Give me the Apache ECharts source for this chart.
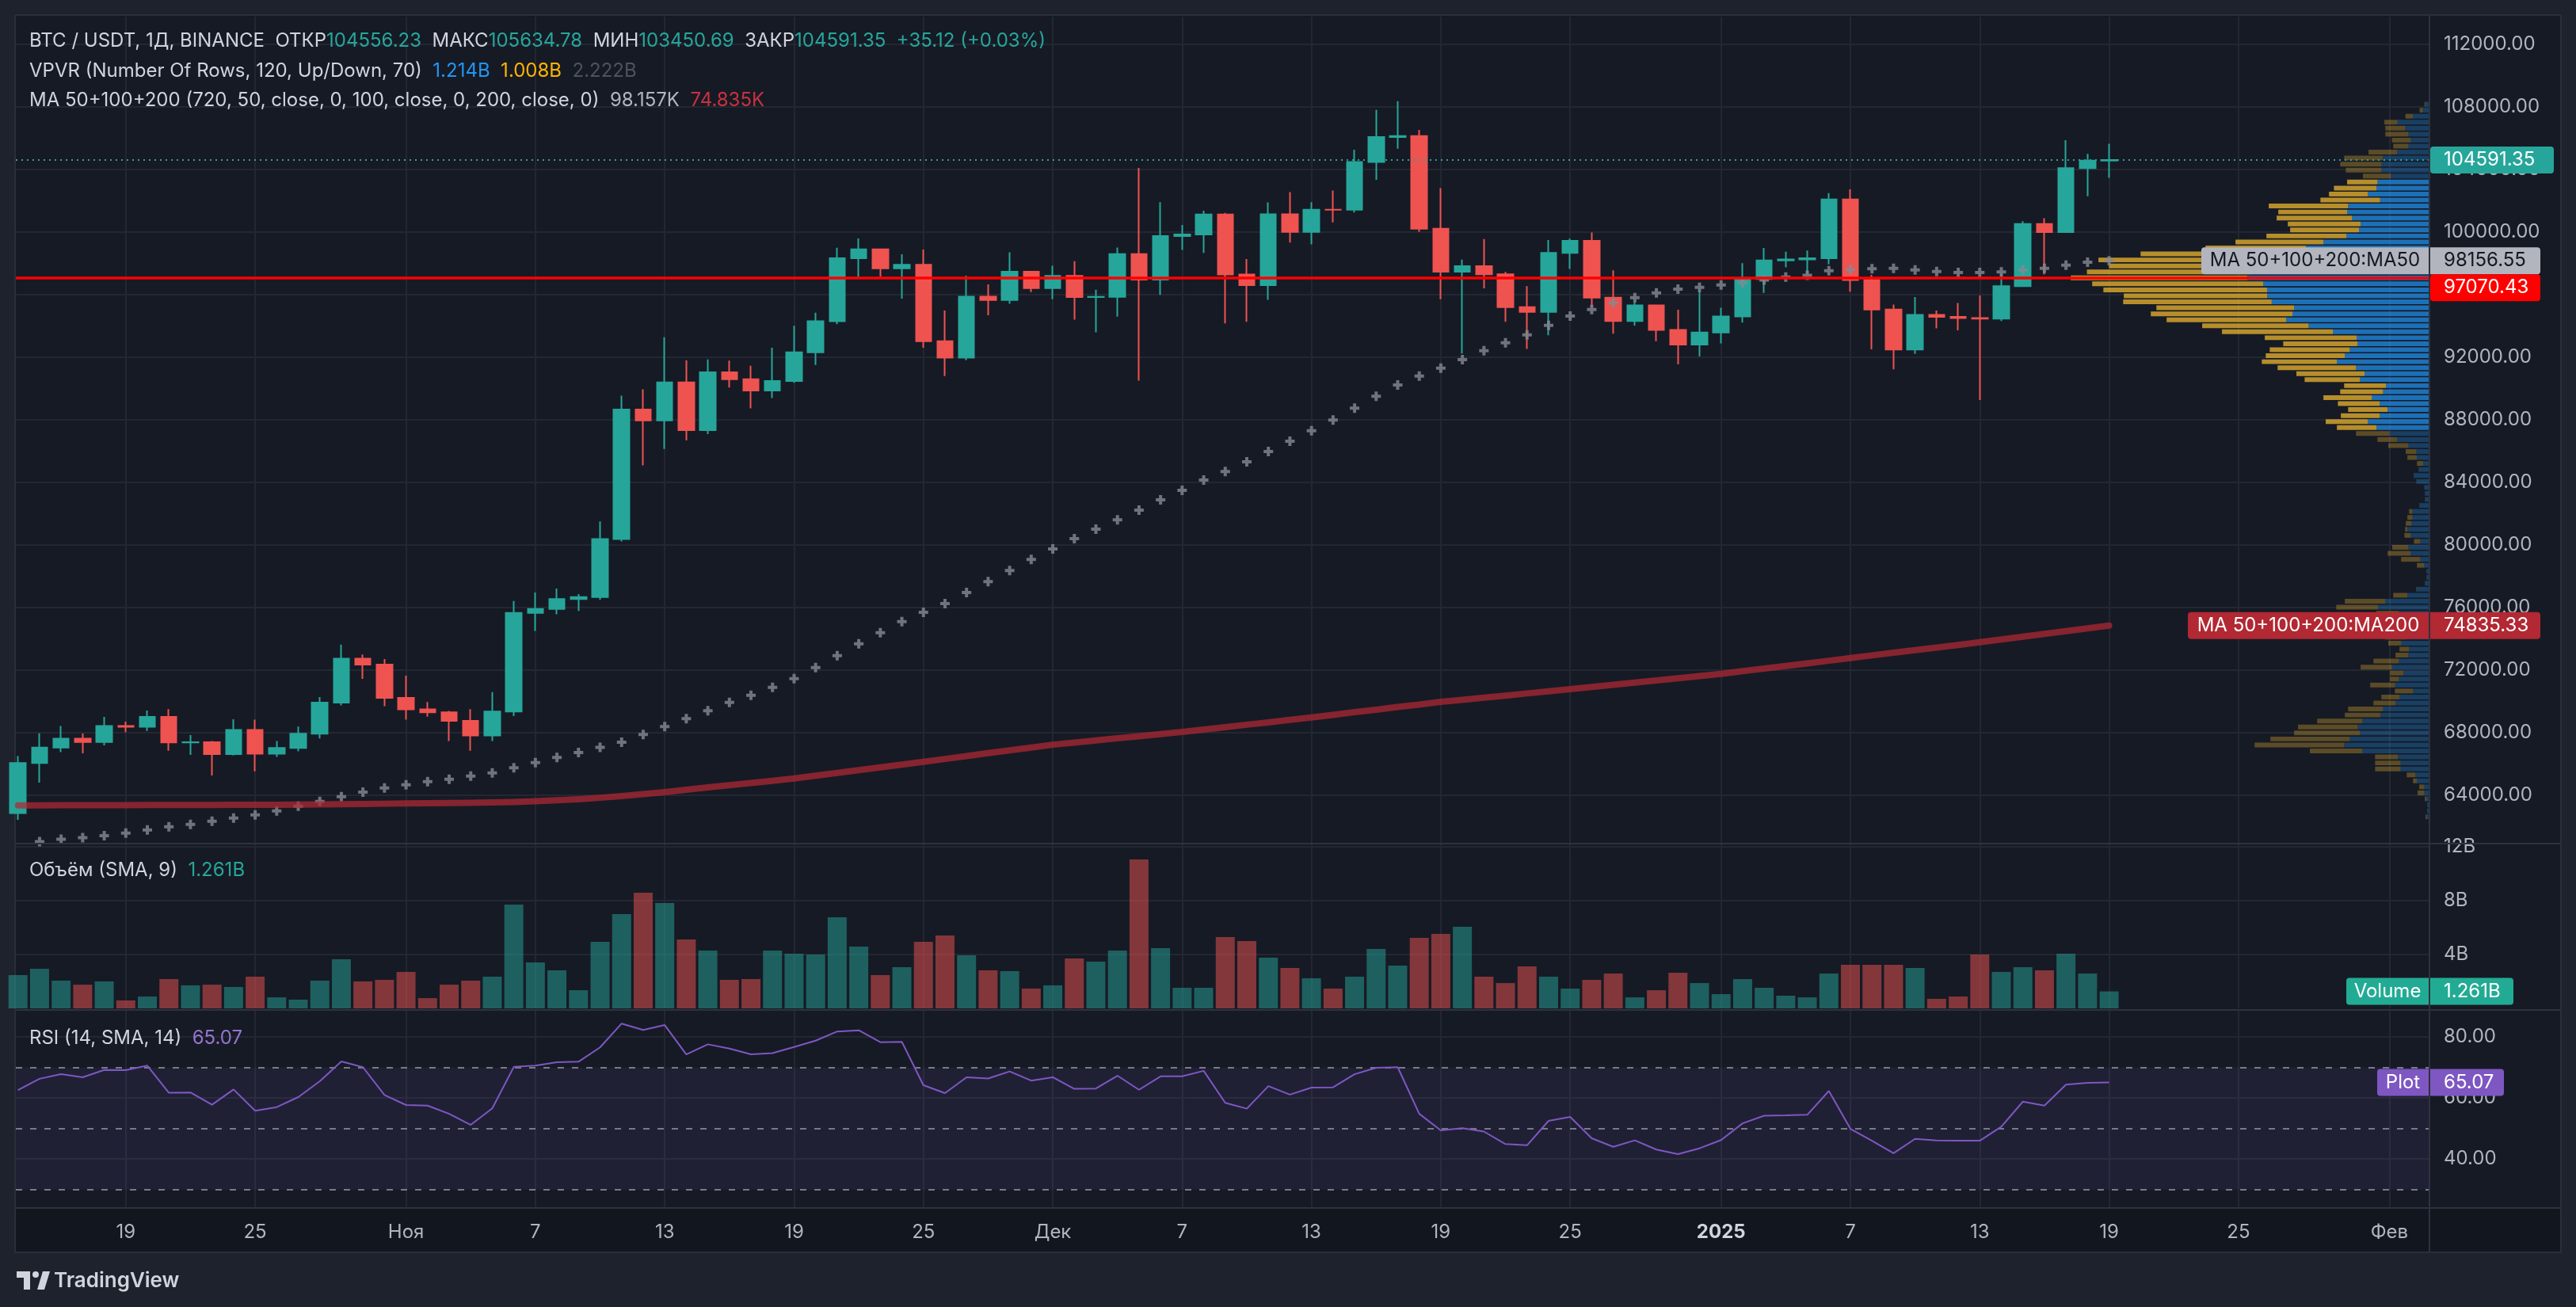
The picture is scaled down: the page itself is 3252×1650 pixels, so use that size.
<!DOCTYPE html>
<html><head><meta charset="utf-8">
<script src="https://cdn.jsdelivr.net/npm/echarts@6/dist/echarts.min.js"></script>
<style>html,body{margin:0;padding:0;background:#1e222d;}#c{width:3252px;height:1650px;}</style>
</head><body><div id="c"></div>
<script>
// ---------- DATA ----------
const dates = [
'2024-10-14','2024-10-15','2024-10-16','2024-10-17','2024-10-18','2024-10-19','2024-10-20','2024-10-21','2024-10-22','2024-10-23','2024-10-24','2024-10-25','2024-10-26','2024-10-27','2024-10-28','2024-10-29','2024-10-30','2024-10-31',
'2024-11-01','2024-11-02','2024-11-03','2024-11-04','2024-11-05','2024-11-06','2024-11-07','2024-11-08','2024-11-09','2024-11-10','2024-11-11','2024-11-12','2024-11-13','2024-11-14','2024-11-15','2024-11-16','2024-11-17','2024-11-18','2024-11-19','2024-11-20','2024-11-21','2024-11-22','2024-11-23','2024-11-24','2024-11-25','2024-11-26','2024-11-27','2024-11-28','2024-11-29','2024-11-30',
'2024-12-01','2024-12-02','2024-12-03','2024-12-04','2024-12-05','2024-12-06','2024-12-07','2024-12-08','2024-12-09','2024-12-10','2024-12-11','2024-12-12','2024-12-13','2024-12-14','2024-12-15','2024-12-16','2024-12-17','2024-12-18','2024-12-19','2024-12-20','2024-12-21','2024-12-22','2024-12-23','2024-12-24','2024-12-25','2024-12-26','2024-12-27','2024-12-28','2024-12-29','2024-12-30','2024-12-31',
'2025-01-01','2025-01-02','2025-01-03','2025-01-04','2025-01-05','2025-01-06','2025-01-07','2025-01-08','2025-01-09','2025-01-10','2025-01-11','2025-01-12','2025-01-13','2025-01-14','2025-01-15','2025-01-16','2025-01-17','2025-01-18','2025-01-19'];

const open = [62851,66046,67041,67612,67399,68418,68362,69002,67367,67382,66620,68161,66642,67014,67929,69907,72720,72339,
70216,69482,69289,68742,67812,69344,75640,75904,76538,76662,80370,88648,87952,90375,87325,91032,90587,89855,90464,92310,94286,98318,98892,97672,97901,93010,91965,95864,95644,97461,
96407,97185,95840,95849,98587,96945,99740,99831,101109,97276,96593,101125,100004,101424,101420,104463,106058,106133,100204,97461,97805,97291,95186,94881,98663,99430,95792,94300,95300,93738,92792,
93576,94592,96985,98174,98237,98314,102078,96923,95043,92484,94701,94566,94488,94450,96534,100505,99987,104078,104556.23];
const high = [66500,67950,68424,67939,69000,68693,69400,69500,67836,67450,68845,68828,67454,68379,70270,73620,72985,72700,
71632,69950,69379,69500,70577,76400,76950,77199,76849,81500,89530,89940,93265,91790,91850,91779,91449,92594,94002,94831,98984,99588,98908,98564,98871,94973,97208,96650,98693,97463,
97836,98130,96305,99000,104088,101898,100439,101350,101215,98270,101888,102540,101895,102650,105250,107793,108353,106524,102800,98233,99540,97448,96538,99487,99569,99963,97544,95525,95340,95024,96250,
95149,98000,98976,98734,98813,102482,102724,97259,95349,95836,94977,95450,95940,97371,100681,100873,105865,104988,105634.78];
const low = [62422,64800,66750,66666,67177,68010,68100,66835,66571,65249,66532,65521,66439,66800,67618,69730,71436,69685,
68820,69018,67458,66835,67458,69050,74499,75556,75770,76492,80216,85072,86127,86668,87073,90056,88722,89376,90357,91500,94100,97122,97136,95734,92600,90791,91792,94677,95407,96150,
95693,94395,93578,94587,90500,95981,98844,98657,94150,94256,95658,99311,99205,100609,101237,103333,105321,100000,95700,92232,96398,94250,92520,93396,97632,95199,93500,94014,93009,91530,92033,
92870,94202,96100,97735,97291,97926,96181,92500,91220,92206,93840,93711,89256,94307,96500,97278,99950,102277,103450.69];
const close = [66046,67041,67612,67399,68418,68362,69001,67367,67382,66620,68161,66642,67014,67929,69907,72720,72339,70215,
69482,69289,68742,67812,69344,75640,75904,76538,76662,80370,88647,87952,90375,87325,91032,90586,89855,90464,92310,94286,98317,98892,97672,97900,93010,91965,95863,95644,97460,96407,
97185,95840,95849,98587,96945,99740,99831,101109,97276,96593,101125,100004,101424,101420,104463,106058,106133,100204,97461,97805,97291,95186,94881,98663,99430,95792,94300,95300,93738,92792,93576,
94592,96985,98174,98237,98314,102078,96923,95043,92484,94701,94566,94488,94450,96534,100504,99987,104077,104556.23,104591.35];

// daily volume, billions
const volume = [2.47,2.94,2.06,1.76,2.0,0.59,0.88,2.18,1.71,1.76,1.59,2.35,0.82,0.65,2.06,3.65,2.0,2.12,
2.71,0.76,1.76,2.06,2.35,7.71,3.41,2.82,1.35,4.94,7.0,8.59,7.82,5.12,4.29,2.12,2.18,4.29,4.06,4.0,6.76,4.59,2.47,3.06,4.94,5.41,3.94,2.82,2.76,1.47,
1.71,3.71,3.47,4.29,11.06,4.47,1.53,1.53,5.29,5.0,3.76,3.0,2.24,1.47,2.35,4.41,3.18,5.24,5.53,6.06,2.35,1.88,3.12,2.35,1.47,2.12,2.59,0.82,1.35,2.65,1.88,
1.06,2.18,1.53,0.94,0.82,2.59,3.24,3.24,3.24,3.0,0.71,0.88,4.0,2.71,3.06,2.82,4.06,2.59,1.261];

const ma50 = [60880,61030,61180,61280,61400,61570,61770,61970,62130,62330,62530,62730,62990,63290,63600,63900,64190,64460,
64660,64860,65010,65220,65420,65750,66080,66400,66720,67050,67380,67870,68380,68890,69390,69920,70380,70890,71440,72150,72910,73670,74380,75090,75690,76240,76950,77650,78360,79070,
79730,80390,81000,81600,82210,82870,83480,84140,84690,85300,85960,86620,87290,87980,88740,89500,90210,90790,91290,91830,92400,92910,93420,94030,94620,95040,95450,95800,96100,96340,96460,
96610,96760,96930,97110,97230,97520,97600,97650,97670,97570,97470,97400,97400,97440,97570,97670,97870,98060,98156.55];

const ma200 = [63340,63345,63350,63350,63355,63360,63365,63365,63370,63370,63375,63380,63385,63395,63405,63420,63435,63450,
63465,63480,63495,63510,63530,63560,63610,63670,63740,63830,63940,64060,64190,64340,64490,64630,64770,64915,65060,65240,65420,65600,65770,65950,66126,66310,66490,66680,66860,67040,
67223,67360,67490,67630,67760,67900,68034,68190,68340,68500,68650,68810,68962,69130,69300,69460,69630,69790,69958,70090,70230,70360,70500,70630,70768,70910,71050,71190,71330,71470,71610,
71747,71920,72090,72250,72420,72590,72759,72930,73100,73270,73430,73600,73771,73950,74130,74300,74480,74660,74835.33];

const rsi = [62.6,66.3,67.8,66.8,69.2,69.1,70.6,61.7,61.8,57.8,62.8,55.8,57.0,60.3,65.5,72.0,70.1,61.0,
57.7,57.5,54.8,51.2,56.6,70.2,70.6,71.7,71.9,76.6,84.4,82.3,83.9,74.3,77.6,76.2,74.3,74.7,76.7,78.8,81.8,82.2,78.3,78.4,64.2,61.6,66.8,66.4,68.7,65.7,
66.8,63.0,63.1,67.3,62.7,67.1,67.1,68.9,58.4,56.5,63.9,61.1,63.4,63.5,67.8,69.9,70.1,54.8,49.4,50.1,49.0,44.9,44.5,52.5,53.8,46.8,44.0,46.1,43.1,41.6,43.5,
46.2,51.7,54.2,54.3,54.5,62.3,49.9,46.0,41.9,46.6,46.1,46.0,46.0,50.6,58.8,57.5,64.4,65.0,65.07];

// Visible-range volume profile, 120 rows from lowest low to highest high (bottom row first)
const vpUp = [9,7,7,9,16,16,38,43,88,88, 96,204,259,242,211,218,204,149,141,103, 91,50,105,93,79,113,93,64,62,86,
70,65,75,85,93,156,134,67,38,14, 9,9,16,28,57,64,28,57,67,55, 52,52,31,14,14,16,40,48,33,19,
38,40,64,98,122,161,187,151,127,151, 175,141,132,211,197,223,281,257,242,218, 221,293,367,435,416,411,479,493,493,505,
553,540,500,520,470,375,322,252,214,209, 235,250,247,150,187,161,158,117,146,146, 142,98,64,57,64,74,97,50,20,12];
const vpDown = [3,0,0,5,20,15,12,26,77,77, 69,159,272,241,200,181,137,108,106,67, 55,55,75,27,41,96,77,39,29,39,
65,50,50,60,68,127,123,43,2,0, 0,0,22,58,70,49,19,19,7,17, 15,10,0,0,0,0,0,0,0,19,
29,32,61,60,101,120,128,118,120,127, 147,130,127,168,207,238,228,240,243,226, 279,337,323,363,430,418,451,435,497,519,
536,500,473,485,407,305,267,243,209,221, 229,209,241,181,118,129,92,85,108,125, 117,87,46,57,70,60,40,23,10,3];
const vpRows = 120;
const valueAreaRows = [65, 106];

const priceTicks = [64000,68000,72000,76000,80000,84000,88000,92000,96000,100000,104000,108000,112000];
const volTicks = [4, 8, 12];
const rsiTicks = [40, 60, 80];
const rsiLevels = [30, 50, 70];
const timeTickDates = ['2024-10-19','2024-10-25','2024-11-01','2024-11-07','2024-11-13','2024-11-19','2024-11-25','2024-12-01','2024-12-07','2024-12-13','2024-12-19','2024-12-25','2025-01-01','2025-01-07','2025-01-13','2025-01-19','2025-01-25','2025-02-01'];
const timeTickLabels = ['19','25','Ноя','7','13','19','25','Дек','7','13','19','25','2025','7','13','19','25','Фев'];
const horizontalLinePrice = 97070.43;
const vpvrHeaderValues = ['1.214B', '1.008B', '2.222B'];

// ---------- CHART ----------
const FONT = 'Inter, "Noto Sans", sans-serif';
const DAY = 86400000;
const ts = dates.map(d => Date.parse(d + 'T00:00:00Z'));
const tickTs = timeTickDates.map(d => Date.parse(d + 'T00:00:00Z'));
const xMin = ts[0] - 0.1 * DAY, xMax = ts[0] + 111.86 * DAY;
const n = dates.length;
const UP = '#26a69a', DOWN = '#ef5350';
const GRID_C = '#232732';
const AXIS_TXT = '#b2b5be';

const vpLo = Math.min.apply(null, low), vpHi = Math.max.apply(null, high);
const rowH = (vpHi - vpLo) / vpRows;

function fmtTime(v) {
  let best = 0, bd = Infinity;
  tickTs.forEach((t, i) => { const d = Math.abs(t - v); if (d < bd) { bd = d; best = i; } });
  const s = timeTickLabels[best];
  return /^\d{4}$/.test(s) ? '{b|' + s + '}' : s;
}

function xAxisFor(gridIndex, showLabels) {
  return {
    type: 'value', gridIndex, min: xMin, max: xMax,
    axisLine: { show: false },
    axisTick: { show: false, customValues: tickTs },
    axisLabel: { show: showLabels, customValues: tickTs, formatter: fmtTime, color: AXIS_TXT,
      fontSize: 24, fontFamily: FONT, margin: 20,
      rich: { b: { fontSize: 24, fontFamily: FONT, fontWeight: 'bold', color: '#d1d4dc' } } },
    splitLine: { show: true, lineStyle: { color: GRID_C, width: 2 } }
  };
}
function yAxisFor(gridIndex, min, max, ticks, fmt) {
  return {
    type: 'value', gridIndex, position: 'right', min, max, scale: true,
    axisLine: { show: true, lineStyle: { color: '#2e323e', width: 2 } },
    axisTick: { show: false, customValues: ticks },
    axisLabel: { customValues: ticks, formatter: fmt, color: AXIS_TXT, fontSize: 24, fontFamily: FONT, margin: 18 },
    splitLine: { show: true, lineStyle: { color: GRID_C, width: 2 } }
  };
}

const chart = echarts.init(document.getElementById('c'), null, { renderer: 'canvas' });

const option = {
  backgroundColor: '#1e222d',
  animation: false,
  grid: [
    { left: 20, right: 185, top: 21, height: 1043 },
    { left: 20, right: 185, top: 1066, height: 207 },
    { left: 20, right: 185, top: 1276, height: 248 }
  ],
  xAxis: [
    xAxisFor(0, false),
    { type: 'value', gridIndex: 0, position: 'top', inverse: true, min: 0, max: 7328, show: false },
    xAxisFor(1, false),
    xAxisFor(2, true)
  ],
  yAxis: [
    yAxisFor(0, 60950, 113760, priceTicks, v => v.toFixed(2)),
    yAxisFor(1, 0, 12.18, volTicks, v => v + 'B'),
    yAxisFor(2, 24.2, 88.6, rsiTicks, v => v.toFixed(2))
  ],
  series: [
    { // visible range volume profile
      type: 'custom', xAxisIndex: 1, yAxisIndex: 0, z: 1, silent: true,
      data: vpUp.map((u, i) => [i, u, vpDown[i]]),
      encode: { x: 1, y: 0 },
      renderItem: function (params, api) {
        const i = api.value(0), u = api.value(1), d = api.value(2);
        const y0 = vpLo + i * rowH, y1 = y0 + rowH;
        const pT = api.coord([0, y1]), pB = api.coord([0, y0]);
        const xR = pT[0];
        const xU = api.coord([u, y0])[0];
        const xD = api.coord([u + d, y0])[0];
        const top = pT[1] + 0.8, h = Math.max(pB[1] - pT[1] - 1.6, 1);
        const va = i >= valueAreaRows[0] && i <= valueAreaRows[1];
        return { type: 'group', children: [
          { type: 'rect', shape: { x: xU, y: top, width: xR - xU, height: h },
            style: { fill: va ? 'rgba(33,150,243,0.7)' : 'rgba(33,150,243,0.3)' } },
          { type: 'rect', shape: { x: xD, y: top, width: xU - xD, height: h },
            style: { fill: va ? 'rgba(251,192,45,0.7)' : 'rgba(251,192,45,0.3)' } }
        ] };
      }
    },
    {
      type: 'candlestick', xAxisIndex: 0, yAxisIndex: 0, z: 3,
      data: ts.map((t, i) => [t, open[i], close[i], low[i], high[i]]),
      encode: { x: 0, y: [1, 2, 3, 4] },
      barWidth: 20,
      itemStyle: { color: UP, color0: DOWN, borderColor: UP, borderColor0: DOWN, borderWidth: 2 },
      markLine: {
        silent: true, symbol: 'none', label: { show: false }, z: 6,
        data: [
          { yAxis: horizontalLinePrice, lineStyle: { color: '#ff0000', width: 3.5, type: 'solid' } },
          { yAxis: close[n - 1], lineStyle: { color: UP, width: 2, type: [2, 5] } }
        ]
      }
    },
    {
      type: 'scatter', xAxisIndex: 0, yAxisIndex: 0, z: 4, silent: true,
      data: ts.map((t, i) => [t, ma50[i]]),
      symbol: 'path://M4,0H8V4H12V8H8V12H4V8H0V4H4Z', symbolSize: 12,
      itemStyle: { color: '#868993' }
    },
    {
      type: 'line', xAxisIndex: 0, yAxisIndex: 0, z: 5, silent: true,
      data: ts.map((t, i) => [t, ma200[i]]),
      showSymbol: false, symbol: 'none',
      lineStyle: { color: 'rgba(178,40,51,0.72)', width: 8, cap: 'round', join: 'round' }
    },
    {
      type: 'bar', xAxisIndex: 2, yAxisIndex: 1, silent: true, barWidth: 24,
      data: ts.map((t, i) => ({ value: [t, volume[i]],
        itemStyle: { color: close[i] >= open[i] ? 'rgba(38,166,154,0.5)' : 'rgba(239,83,80,0.5)' } }))
    },
    {
      type: 'line', xAxisIndex: 3, yAxisIndex: 2, silent: true, z: 5,
      data: ts.map((t, i) => [t, rsi[i]]),
      showSymbol: false, symbol: 'none',
      lineStyle: { color: '#7e57c2', width: 2 },
      markArea: { silent: true, itemStyle: { color: 'rgba(126,87,194,0.1)' },
        data: [[{ yAxis: rsiLevels[0] }, { yAxis: rsiLevels[2] }]] },
      markLine: { silent: true, symbol: 'none', label: { show: false },
        lineStyle: { color: '#787b86', width: 2, type: [8, 10] },
        data: rsiLevels.map(v => ({ yAxis: v })) }
    }
  ]
};
chart.setOption(option);

// ---------- overlay text & labels ----------
const yPx = (v, idx) => chart.convertToPixel({ yAxisIndex: idx }, v);
const g = [];
// frame background
g.push({ type: 'rect', z: -10, shape: { x: 19, y: 19, width: 3214, height: 1562 },
  style: { fill: '#161a25', stroke: '#2a2e39', lineWidth: 2 } });
g.push({ type: 'rect', z: -9, shape: { x: 20, y: 1526, width: 3212, height: 54 }, style: { fill: '#12161f' } });
// separators
[1065, 1275, 1525].forEach(y => g.push({ type: 'line', z: 50, shape: { x1: 20, y1: y, x2: 3232, y2: y },
  style: { stroke: '#2e323e', lineWidth: 2 } }));
g.push({ type: 'line', z: 50, shape: { x1: 3067, y1: 20, x2: 3067, y2: 1580 }, style: { stroke: '#2e323e', lineWidth: 2 } });

function txt(x, y, text, fill, align, rich, weight) {
  return { type: 'text', x, y, z: 102,
    style: { text, fill, fontSize: 24, fontFamily: FONT, fontWeight: weight || 'normal',
      align: align || 'left', verticalAlign: 'middle', rich: rich || undefined } };
}
function box(x, w, yc, fill, r) {
  return { type: 'rect', z: 101, shape: { x, y: yc - 17, width: w, height: 34, r: r }, style: { fill } };
}
function twoPart(lx, lw, rw, yc, fill, ltext, rtext, color) {
  g.push(box(lx, lw, yc, fill, [4, 0, 0, 4]));
  g.push(box(3068, rw, yc, fill, [0, 4, 4, 0]));
  g.push(txt(lx + lw / 2, yc, ltext, color, 'center'));
  g.push(txt(3085, yc, rtext, color, 'left'));
}

// header
const lastO = open[n - 1], lastH = high[n - 1], lastL = low[n - 1], lastC = close[n - 1];
const chg = lastC - close[n - 2];
const pct = chg / close[n - 2] * 100;
const vr = { fill: UP, fontSize: 24, fontFamily: FONT };
g.push(txt(37, 52,
  'BTC / USDT, 1Д, BINANCE  ОТКР{v|' + lastO.toFixed(2) + '}  МАКС{v|' + lastH.toFixed(2) + '}  МИН{v|' + lastL.toFixed(2) +
  '}  ЗАКР{v|' + lastC.toFixed(2) + '}  {v|' + (chg >= 0 ? '+' : '') + chg.toFixed(2) + ' (' + (pct >= 0 ? '+' : '') + pct.toFixed(2) + '%)}',
  '#d1d4dc', 'left', { v: vr }));
g.push(txt(37, 90,
  'VPVR (Number Of Rows, ' + vpRows + ', Up/Down, 70)  {b|' + vpvrHeaderValues[0] + '}  {y|' + vpvrHeaderValues[1] + '}  {g|' + vpvrHeaderValues[2] + '}',
  '#d1d4dc', 'left', {
    b: { fill: '#2196f3', fontSize: 24, fontFamily: FONT },
    y: { fill: '#ffb300', fontSize: 24, fontFamily: FONT },
    g: { fill: '#4e525e', fontSize: 24, fontFamily: FONT } }));
g.push(txt(37, 127,
  'MA 50+100+200 (720, 50, close, 0, 100, close, 0, 200, close, 0)  {w|' + (ma50[n - 1] / 1000).toFixed(3) + 'K}  {r|' + (ma200[n - 1] / 1000).toFixed(3) + 'K}',
  '#d1d4dc', 'left', {
    w: { fill: '#b2b5be', fontSize: 24, fontFamily: FONT },
    r: { fill: '#c8323f', fontSize: 24, fontFamily: FONT } }));
g.push(txt(37, 1099, 'Объём (SMA, 9)  {t|' + volume[n - 1].toFixed(3) + 'B}', '#d1d4dc', 'left',
  { t: { fill: UP, fontSize: 24, fontFamily: FONT } }));
g.push(txt(37, 1311, 'RSI (14, SMA, 14)  {p|' + rsi[n - 1].toFixed(2) + '}', '#d1d4dc', 'left',
  { p: { fill: '#9575cd', fontSize: 24, fontFamily: FONT } }));

// price scale labels
const yLast = yPx(lastC, 0);
g.push(box(3068, 156, yLast, UP, 4));
g.push(txt(3085, yLast, lastC.toFixed(2), '#ffffff'));

const y50 = yPx(ma50[n - 1], 0);
twoPart(2779, 287, 139, y50, '#b2b5be', 'MA 50+100+200:MA50', ma50[n - 1].toFixed(2), '#131722');

const yRed = Math.max(yPx(horizontalLinePrice, 0), y50 + 34);
g.push(box(3068, 139, yRed, '#ff0000', 4));
g.push(txt(3085, yRed, horizontalLinePrice.toFixed(2), '#ffffff'));

const y200 = yPx(ma200[n - 1], 0);
twoPart(2762, 304, 139, y200, '#b22833', 'MA 50+100+200:MA200', ma200[n - 1].toFixed(2), '#ffffff');

const yVol = yPx(volume[n - 1], 1);
twoPart(2962, 104, 105, yVol, '#22ab94', 'Volume', volume[n - 1].toFixed(3) + 'B', '#ffffff');

const yRsi = yPx(rsi[n - 1], 2);
twoPart(3001, 65, 93, yRsi, '#7e57c2', 'Plot', rsi[n - 1].toFixed(2), '#ffffff');

// TradingView logo
g.push({ type: 'polygon', z: 102, shape: { points: [[21,1605],[38,1605],[38,1628],[30,1628],[30,1613],[21,1613]] }, style: { fill: '#d1d4dc' } });
g.push({ type: 'circle', z: 102, shape: { cx: 45, cy: 1609, r: 4 }, style: { fill: '#d1d4dc' } });
g.push({ type: 'polygon', z: 102, shape: { points: [[47,1628],[54,1605],[63,1605],[56,1628]] }, style: { fill: '#d1d4dc' } });
g.push({ type: 'text', x: 68, y: 1617, z: 102, style: { text: 'TradingView', fill: '#d1d4dc', fontSize: 26, fontWeight: 600, fontFamily: FONT, verticalAlign: 'middle' } });

chart.setOption({ graphic: { elements: g } });
</script>
</body></html>
